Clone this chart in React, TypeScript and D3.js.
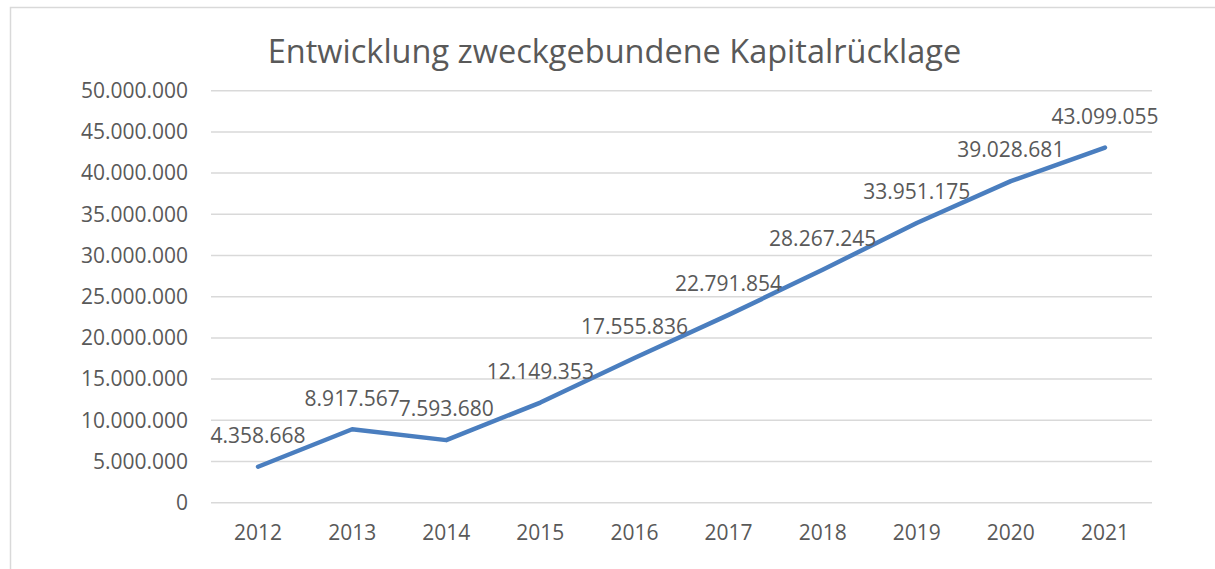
import React from "react";
import * as d3 from "d3";

const years = ["2012", "2013", "2014", "2015", "2016", "2017", "2018", "2019", "2020", "2021"];
const values = [4358668, 8917567, 7593680, 12149353, 17555836, 22791854, 28267245, 33951175, 39028681, 43099055];
const yTicks = [0, 5000000, 10000000, 15000000, 20000000, 25000000, 30000000, 35000000, 40000000, 45000000, 50000000];
const title = "Entwicklung zweckgebundene Kapitalrücklage";

const W = 1215;
const H = 569;
const FONT = "'Open Sans', 'DejaVu Sans', sans-serif";
const TEXT = "#595959";

const fmt = (v: number) => {
  const s = Math.round(v).toString();
  return s.replace(/\B(?=(\d{3})+(?!\d))/g, ".");
};

export default function App() {
  const x = d3.scaleBand<string>().domain(years).range([211, 1152]);
  const y = d3.scaleLinear().domain([0, 50000000]).range([502.7, 90.7]);
  const cx = (d: string) => (x(d) as number) + x.bandwidth() / 2;
  const line = d3
    .line<number>()
    .x((_, i) => cx(years[i]))
    .y((d) => y(d));

  return (
    <svg
      width={W}
      height={H}
      style={{ position: "absolute", left: 0, top: 0, background: "#fff" }}
      fontFamily={FONT}
    >
      <rect x={0} y={0} width={W} height={H} fill="#fff" />
      <rect x={10.5} y={7.5} width={1400} height={700} fill="none" stroke="#d9d9d9" strokeWidth={1.5} />
      <text x={614.5} y={63} textAnchor="middle" fontSize={32.5} fill={TEXT}>
        {title}
      </text>
      {yTicks.map((t) => (
        <g key={t}>
          <line x1={211} x2={1152} y1={y(t)} y2={y(t)} stroke="#d9d9d9" strokeWidth={1.5} />
          <text x={188} y={y(t)} dy="0.35em" textAnchor="end" fontSize={21} fill={TEXT}>
            {fmt(t)}
          </text>
        </g>
      ))}
      {years.map((yr) => (
        <text key={yr} x={cx(yr)} y={533} dy="0.35em" textAnchor="middle" fontSize={21} fill={TEXT}>
          {yr}
        </text>
      ))}
      <path
        d={line(values) || ""}
        fill="none"
        stroke="#4a7ebf"
        strokeWidth={4.5}
        strokeLinejoin="round"
        strokeLinecap="round"
      />
      {values.map((v, i) => (
        <text
          key={i}
          x={cx(years[i])}
          y={y(v) - 31}
          dy="0.35em"
          textAnchor="middle"
          fontSize={21}
          fill={TEXT}
        >
          {fmt(v)}
        </text>
      ))}
    </svg>
  );
}
